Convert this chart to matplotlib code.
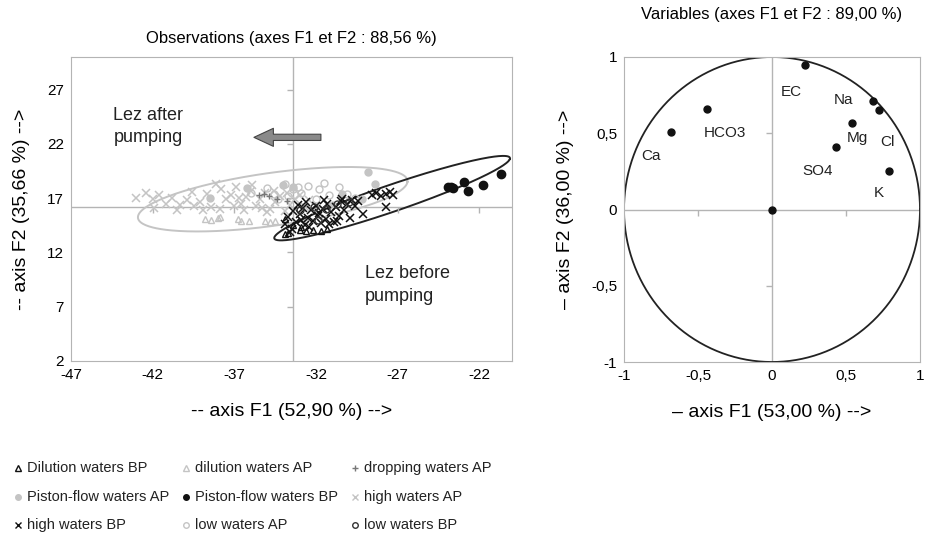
import numpy as np
import matplotlib
matplotlib.use('Agg')
import matplotlib.pyplot as plt

plt.rcParams['font.family'] = ['Liberation Sans', 'DejaVu Sans']
plt.rcParams['axes.unicode_minus'] = False

# ---- observations (F1, F2) ----
dil_bp_x = [-33.9, -33.7, -33.0, -32.6, -32.2, -31.7, -33.9, -33.4, -31.3, -32.9]
dil_bp_y = [13.7, 13.8, 14.1, 14.0, 14.1, 14.0, 15.1, 14.5, 14.2, 14.3]

dil_ap_x = [-38.8, -38.4, -38.0, -36.8, -36.6, -36.1, -35.1, -34.8, -34.5, -37.9]
dil_ap_y = [15.1, 15.0, 15.2, 15.1, 14.9, 14.9, 14.9, 14.8, 14.9, 15.3]

drop_ap_x = [-35.5, -35.2, -34.4, -34.9, -33.8]
drop_ap_y = [17.3, 17.4, 16.9, 17.2, 16.7]

pist_ap_x = [-28.8, -28.4, -30.4, -34.0, -33.4, -31.0, -29.2, -36.2, -38.5]
pist_ap_y = [19.4, 18.3, 17.4, 18.2, 18.0, 16.4, 16.9, 17.9, 17.0]

pist_bp_x = [-23.9, -23.75, -23.6, -22.95, -22.7, -21.8, -20.7]
pist_bp_y = [18.0, 18.0, 17.95, 18.5, 17.7, 18.2, 19.2]

high_ap_x = [-43.0, -42.4, -42.0, -41.6, -41.2, -40.8, -40.3, -39.9, -39.5, -39.1,
             -38.7, -38.4, -38.1, -37.8, -37.5, -37.2, -36.9, -36.6, -36.3, -36.0,
             -35.7, -35.4, -35.1, -34.8, -34.5, -34.2, -33.9, -33.6, -33.3, -33.0,
             -32.7, -32.4, -37.9, -36.4, -35.0, -39.6, -38.9, -37.0, -35.9, -34.6,
             -40.5, -41.9, -36.7, -35.3, -33.8]
high_ap_y = [17.0, 17.5, 16.9, 17.3, 16.5, 17.0, 16.4, 16.8, 16.3, 16.6,
             17.4, 16.2, 18.3, 17.8, 16.9, 17.3, 18.0, 16.5, 17.1, 17.7,
             16.3, 16.9, 17.5, 16.0, 16.6, 17.2, 15.8, 16.4, 16.9, 17.3,
             16.2, 16.8, 16.0, 15.9, 15.7, 17.6, 15.9, 16.3, 18.2, 17.7,
             15.9, 16.1, 17.0, 16.1, 17.5]

high_bp_x = [-33.9, -33.7, -33.5, -33.4, -33.2, -33.0, -32.8, -32.7, -32.5, -32.3,
             -32.2, -32.0, -31.9, -31.7, -31.6, -31.4, -31.3, -31.1, -30.9, -30.8,
             -30.6, -30.5, -30.3, -30.1, -29.9, -29.8, -29.6, -32.9, -32.4, -31.8,
             -31.2, -30.7, -33.6, -28.6, -28.3, -28.0, -27.7, -27.5, -27.3, -29.1,
             -27.7, -33.1, -32.6, -31.5, -30.4, -29.4]
high_bp_y = [14.6, 15.3, 14.2, 15.8, 14.8, 15.5, 16.1, 14.5, 15.2, 15.9,
             14.9, 16.3, 15.4, 14.7, 16.0, 15.1, 16.5, 15.7, 14.8, 16.2,
             15.4, 16.7, 15.9, 16.5, 15.2, 16.8, 16.3, 15.0, 14.3, 15.6,
             14.6, 14.9, 13.9, 17.3, 17.5, 17.2, 17.4, 17.6, 17.3, 15.5,
             16.2, 16.4, 16.6, 16.8, 16.9, 16.7]

low_ap_x = [-33.9, -33.4, -33.1, -32.5, -31.8, -32.0, -33.7, -30.1, -34.6, -35.0,
            -31.2, -30.6, -32.9, -34.3, -31.5, -36.0, -29.6]
low_ap_y = [18.3, 17.8, 18.0, 18.1, 17.8, 16.9, 17.2, 17.4, 17.4, 17.9,
            17.3, 18.0, 17.5, 16.9, 18.4, 17.5, 17.0]

low_bp_x = [-33.0, -32.1, -31.4, -30.7, -30.0, -31.9]
low_bp_y = [15.9, 16.2, 16.0, 16.5, 16.6, 15.0]

# confidence ellipses: centre, half major axis vector, half minor axis vector
ell_ap = dict(c=(-34.65, 16.9), u=(8.25, 1.6), v=(0.21, 2.5))
ell_bp = dict(c=(-27.34, 17.0), u=(7.21, 3.61), v=(0.3, 1.45))

obs_xticks = [-47, -42, -37, -32, -27, -22]
obs_yticks = [2, 7, 12, 17, 22, 27]
obs_cross = (-33.4, 16.2)

# ---- variables (correlation circle) ----
var_names = ['EC', 'Na', 'Cl', 'Mg', 'SO4', 'K', 'HCO3', 'Ca', '']
var_x = [0.22, 0.68, 0.72, 0.54, 0.43, 0.79, -0.44, -0.68, 0.0]
var_y = [0.95, 0.71, 0.65, 0.57, 0.41, 0.25, 0.66, 0.51, 0.0]
lab_x = [0.13, 0.48, 0.78, 0.58, 0.31, 0.72, -0.32, -0.82]
lab_y = [0.77, 0.72, 0.44, 0.47, 0.25, 0.11, 0.50, 0.35]
var_ticks = [-1, -0.5, 0, 0.5, 1]
var_ticklabels = ['-1', '-0,5', '0', '0,5', '1']

LG = '#c4c4c4'
FRAME = '#b4b4b4'
BK = '#111111'

fig = plt.figure(figsize=(9.35, 5.44), dpi=100)

# ------------------------------------------------------------------ left
ax = fig.add_axes([71 / 935, 1 - 361 / 544, 441 / 935, 304 / 544])
ax.set_xlim(-47, -20)
ax.set_ylim(2, 30)
for s in ax.spines.values():
    s.set_color(FRAME)
ax.axvline(obs_cross[0], color=FRAME, lw=1, zorder=0)
ax.axhline(obs_cross[1], color=FRAME, lw=1, zorder=0)
ax.plot([v for v in obs_xticks if v > -47], [obs_cross[1]] * 5, ls='none', marker=3,
        color=FRAME, ms=4)
ax.plot([obs_cross[0]] * 5, [v for v in obs_yticks if v > 2], ls='none', marker=0,
        color=FRAME, ms=4)

t = np.linspace(0, 2 * np.pi, 300)
for e, col in [(ell_ap, LG), (ell_bp, '#222222')]:
    ex = e['c'][0] + e['u'][0] * np.cos(t) + e['v'][0] * np.sin(t)
    ey = e['c'][1] + e['u'][1] * np.cos(t) + e['v'][1] * np.sin(t)
    ax.plot(ex, ey, color=col, lw=1.4, zorder=1)

ms = 5
ax.plot(high_ap_x, high_ap_y, 'x', color=LG, ms=6, mew=1.1)
ax.plot(low_ap_x, low_ap_y, 'o', mfc='none', mec=LG, ms=ms, mew=1)
ax.plot(pist_ap_x, pist_ap_y, 'o', color=LG, ms=ms)
ax.plot(dil_ap_x, dil_ap_y, '^', mfc='none', mec=LG, ms=ms, mew=1)
ax.plot(drop_ap_x, drop_ap_y, '+', color='#777777', ms=5, mew=1)
ax.plot(high_bp_x, high_bp_y, 'x', color=BK, ms=6, mew=1.1)
ax.plot(low_bp_x, low_bp_y, 'o', mfc='none', mec='#333333', ms=ms, mew=1)
ax.plot(dil_bp_x, dil_bp_y, '^', mfc='none', mec=BK, ms=ms, mew=1)
ax.plot(pist_bp_x, pist_bp_y, 'o', color=BK, ms=6)

ax.annotate('', xy=(-35.8, 22.6), xytext=(-31.7, 22.6),
            arrowprops=dict(arrowstyle='simple,head_length=1.4,head_width=1.3,tail_width=0.45',
                            fc='#8a8a8a', ec='#444444', lw=0.8, shrinkA=0, shrinkB=0,
                            mutation_scale=10))
ax.text(-44.4, 25.4, 'Lez after\npumping', fontsize=13, ha='left', va='top',
        linespacing=1.4, color='#222222')
ax.text(-29.0, 10.8, 'Lez before\npumping', fontsize=13, ha='left', va='top',
        linespacing=1.4, color='#222222')

ax.set_xticks(obs_xticks)
ax.set_yticks(obs_yticks)
ax.tick_params(length=0, labelsize=11, pad=5)
ax.set_title('Observations (axes F1 et F2 : 88,56 %)', fontsize=12, pad=10)
ax.set_xlabel('-- axis F1 (52,90 %) -->', fontsize=14, labelpad=15)
ax.set_ylabel('-- axis F2 (35,66 %) -->', fontsize=14, labelpad=12)

# ------------------------------------------------------------------ right
ax2 = fig.add_axes([624 / 935, 1 - 362 / 544, 296 / 935, 305 / 544])
ax2.set_xlim(-1, 1)
ax2.set_ylim(-1, 1)
for s in ax2.spines.values():
    s.set_color(FRAME)
ax2.axvline(0, color=FRAME, lw=1, zorder=0)
ax2.axhline(0, color=FRAME, lw=1, zorder=0)
ax2.plot([-0.5, 0.5], [0, 0], ls='none', marker=3, color=FRAME, ms=4)
ax2.plot([0, 0], [-0.5, 0.5], ls='none', marker=0, color=FRAME, ms=4)
ax2.plot(np.cos(t), np.sin(t), color='#222222', lw=1.3)
ax2.plot(var_x, var_y, 'o', color=BK, ms=5)
for name, x, y in zip(var_names, lab_x, lab_y):
    ax2.text(x, y, name, fontsize=11, ha='center', va='center', color='#222222')
ax2.set_xticks(var_ticks)
ax2.set_xticklabels(var_ticklabels)
ax2.set_yticks(var_ticks)
ax2.set_yticklabels(var_ticklabels)
ax2.tick_params(length=0, labelsize=11, pad=5)
ax2.set_title('Variables (axes F1 et F2 : 89,00 %)', fontsize=12, pad=27)
ax2.set_xlabel('– axis F1 (53,00 %) -->', fontsize=14, labelpad=15)
ax2.set_ylabel('– axis F2 (36,00 %) -->', fontsize=14, labelpad=12)

# ------------------------------------------------------------------ legend
leg = fig.add_axes([0, 0, 1, 1], zorder=-1)
leg.set_xlim(0, 935)
leg.set_ylim(544, 0)
leg.axis('off')
entries = [
    ('Dilution waters BP', '^', 'none', BK),
    ('dilution waters AP', '^', 'none', LG),
    ('dropping waters AP', '+', '#777777', '#777777'),
    ('Piston-flow waters AP', 'o', LG, LG),
    ('Piston-flow waters BP', 'o', BK, BK),
    ('high waters AP', 'x', LG, LG),
    ('high waters BP', 'x', BK, BK),
    ('low waters AP', 'o', 'none', LG),
    ('low waters BP', 'o', 'none', '#333333'),
]
col_x = [18, 186, 355]
row_y = [468, 497, 525]
for i, (lab, m, fc, ec) in enumerate(entries):
    cx, cy = col_x[i % 3], row_y[i // 3]
    leg.plot([cx], [cy], marker=m, mfc=fc, mec=ec, color=ec, ms=4, mew=1)
    leg.text(cx + 9, cy, lab, fontsize=10.5, va='center', ha='left', color='#222222')

fig.savefig('out.png', dpi=100)
